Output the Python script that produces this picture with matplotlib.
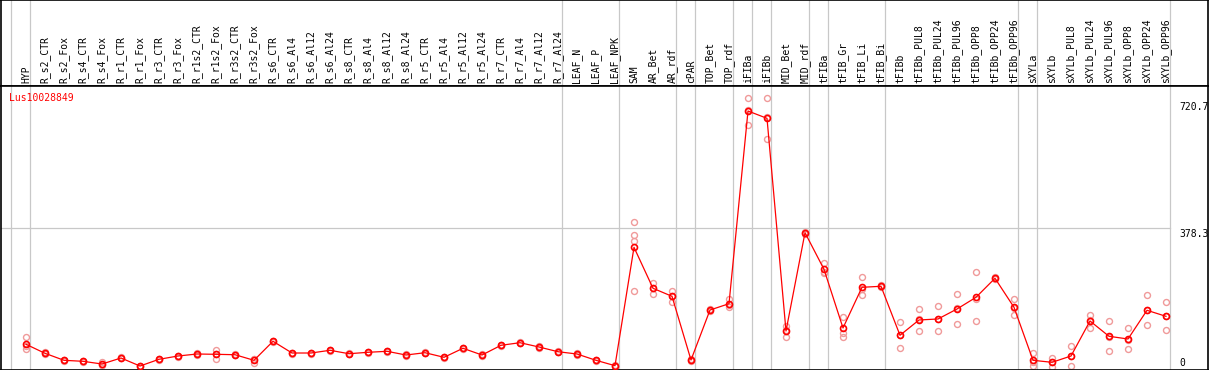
import numpy as np
import matplotlib
matplotlib.use("Agg")
from matplotlib import pyplot as plt

title = "Lus10028849"

samples = ["HYP", "R_s2_CTR", "R_s2_Fox", "R_s4_CTR", "R_s4_Fox", "R_r1_CTR", "R_r1_Fox",
           "R_r3_CTR", "R_r3_Fox", "R_r1s2_CTR", "R_r1s2_Fox", "R_r3s2_CTR", "R_r3s2_Fox",
           "R_s6_CTR", "R_s6_Al4", "R_s6_Al12", "R_s6_Al24", "R_s8_CTR", "R_s8_Al4",
           "R_s8_Al12", "R_s8_Al24", "R_r5_CTR", "R_r5_Al4", "R_r5_Al12", "R_r5_Al24",
           "R_r7_CTR", "R_r7_Al4", "R_r7_Al12", "R_r7_Al24", "LEAF_N", "LEAF_P", "LEAF_NPK",
           "SAM", "AR_Bet", "AR_rdf", "cPAR", "TOP_Bet", "TOP_rdf", "iFIBa", "iFIBb",
           "MID_Bet", "MID_rdf", "tFIBa", "tFIB_Gr", "tFIB_Li", "tFIB_Bi", "tFIBb",
           "tFIBb_PUL8", "tFIBb_PUL24", "tFIBb_PUL96", "tFIBb_OPP8", "tFIBb_OPP24",
           "tFIBb_OPP96", "sXYLa", "sXYLb", "sXYLb_PUL8", "sXYLb_PUL24", "sXYLb_PUL96",
           "sXYLb_OPP8", "sXYLb_OPP24", "sXYLb_OPP96"]

means = [65.3, 41.0, 22.1, 19.4, 12.1, 28.3, 6.7, 24.8, 33.7, 39.1,
         38.3, 37.2, 22.1, 73.4, 41.8, 41.8, 49.1, 39.9, 43.7, 46.4,
         36.4, 42.6, 30.2, 54.5, 36.4, 62.6, 69.6, 58.0, 45.3, 39.1,
         22.1, 7.6, 327.0, 216.4, 194.8, 22.9, 157.8, 174.8, 694.7, 675.0,
         101.2, 366.4, 267.6, 109.3, 219.1, 221.8, 89.6, 130.9, 133.6, 160.5,
         192.1, 243.4, 165.1, 22.1, 16.7, 33.7, 128.2, 86.9, 79.6, 157.0, 140.8]

replicates = [
    [85.8, 51.8, 60.0], [44.0, 38.0, 41.0], [24.0, 20.0, 22.0], [21.0, 18.0, 19.0],
    [17.5, 9.0, 10.0], [30.0, 27.0, 28.0], [8.0, 5.0, 7.0], [26.0, 23.0, 25.0],
    [35.0, 32.0, 34.0], [41.0, 37.0, 39.0], [49.9, 26.4, 38.5], [39.0, 36.0, 37.0],
    [14.8, 26.0, 25.5], [75.0, 72.0, 73.0], [43.0, 40.0, 42.0], [43.0, 40.0, 42.0],
    [51.0, 47.0, 49.0], [41.0, 38.0, 40.0], [45.0, 42.0, 44.0], [48.0, 45.0, 46.0],
    [38.0, 35.0, 36.0], [44.0, 41.0, 43.0], [32.0, 28.0, 30.0], [56.0, 53.0, 54.5],
    [38.0, 35.0, 36.0], [64.0, 61.0, 62.6], [71.0, 68.0, 69.6], [60.0, 56.0, 58.0],
    [47.0, 44.0, 45.0], [41.0, 37.0, 39.0], [24.0, 20.0, 22.0], [9.0, 6.0, 7.6],
    [396.0, 359.0, 343.0, 209.0], [231.5, 200.2, 217.5], [209.9, 180.2, 194.3],
    [25.0, 21.0, 22.9], [160.0, 155.0, 158.0], [186.7, 166.7, 171.0],
    [729.0, 657.0, 698.0], [729.0, 618.0, 678.0], [114.7, 85.0, 104.0],
    [369.0, 364.0, 366.0], [285.4, 260.4, 257.0], [139.8, 96.6, 85.0],
    [246.0, 197.5, 214.0], [224.0, 219.0, 222.0], [124.6, 54.5, 89.7],
    [159.7, 100.4, 132.6], [167.8, 100.4, 132.6], [200.2, 119.2, 162.1],
    [259.5, 128.2, 188.6], [246.0, 241.0, 243.4], [187.5, 143.5, 164.3],
    [41.8, 7.6, 16.9], [27.5, 4.9, 17.7], [60.7, 7.6, 32.8], [144.3, 110.1, 130.2],
    [128.2, 46.4, 86.1], [109.3, 51.8, 77.7], [197.5, 116.6, 156.9],
    [178.6, 103.1, 140.7]]

y_max = 720.7
y_mid = 378.3
group_ends = [-1, 0, 28, 31, 34, 35, 37, 38, 39, 41, 42, 45, 52, 53, 60]

W, H = 1209, 370
fig = plt.figure(figsize=(W / 100, H / 100), dpi=100)
mono = "DejaVu Sans Mono"

x = np.arange(len(samples))
xlim = ((0.5 - 26) / 19, (1208 - 26) / 19)
ylim = (-2.7, 762.2)
grey = "#c8c8c8"

# header with rotated sample names
hd = fig.add_axes([0.5 / W, (H - 86) / H, 1207.5 / W, 86 / H])
hd.set_xlim(xlim)
hd.set_ylim(86, 0)
hd.set_xticks([])
hd.set_yticks([])
for s in hd.spines.values():
    s.set_linewidth(1.2)
for g in group_ends:
    hd.axvline(g + 0.23, color=grey, lw=0.9, zorder=0)
for i, name in enumerate(samples):
    hd.text(i, 83, name, rotation=90, ha="center", va="bottom",
            fontsize=7, family=mono, color="black")

# main plot
ax = fig.add_axes([0.5 / W, 0.5 / H, 1207.5 / W, (369.5 - 86) / H])
ax.set_xlim(xlim)
ax.set_ylim(ylim)
ax.set_xticks([])
ax.set_yticks([])
for s in ax.spines.values():
    s.set_linewidth(1.2)
for g in group_ends:
    ax.axvline(g + 0.23, color=grey, lw=0.9, zorder=0)
ax.plot([xlim[0], 60.23], [y_mid, y_mid], color=grey, lw=0.9, zorder=0)

for i, reps in enumerate(replicates):
    ax.plot([i] * len(reps), reps, ls="none", marker="o", ms=4.3, mfc="none",
            mec="#f09a9a", mew=1.0, zorder=2)
ax.plot(x, means, color="red", lw=0.9, marker="o", ms=4.3, mfc="none",
        mec="red", mew=1.2, zorder=3)

ax.text((9 - 26) / 19, 729, title, color="red", fontsize=7, family=mono,
        ha="left", va="center")
lx = (1179 - 26) / 19
ax.text(lx, y_max - 3, f"{y_max}", fontsize=7, family=mono, ha="left", va="top")
ax.text(lx, y_mid - 3, f"{y_mid}", fontsize=7, family=mono, ha="left", va="top")
ax.text(lx, 6.7, "0", fontsize=7, family=mono, ha="left", va="baseline")

fig.savefig("out.png", dpi=100)
